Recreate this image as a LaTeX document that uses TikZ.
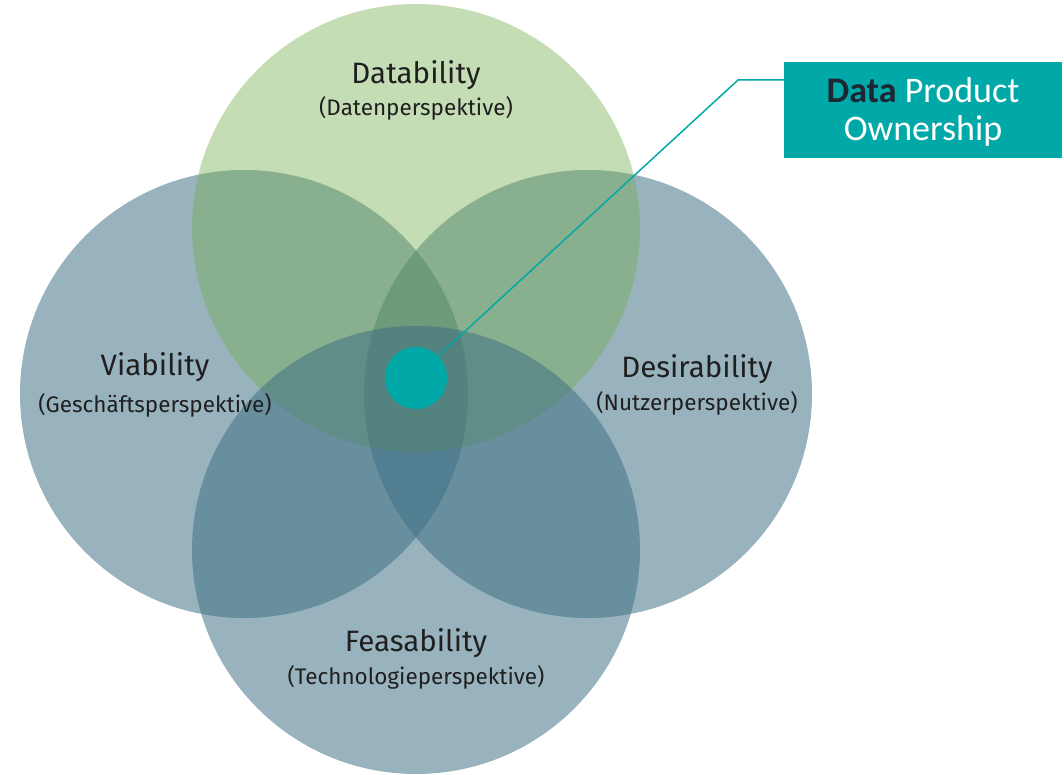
\documentclass[tikz,border=0pt]{standalone}
\usepackage{fontspec}
\setmainfont{Fira Sans}
\newfontfamily\boxfont{Carlito}
\definecolor{bluec}{RGB}{60,110,130}
\definecolor{greenc}{RGB}{113,172,74}
\definecolor{teal}{RGB}{0,168,168}
\definecolor{darktxt}{RGB}{30,38,50}
\begin{document}
\begin{tikzpicture}[x=1pt,y=-1pt,
  bcirc/.style={circle,fill=bluec,fill opacity=0.52,draw=none,minimum size=448pt,inner sep=0pt},
  gcirc/.style={circle,fill=greenc,fill opacity=0.41,draw=none,minimum size=448pt,inner sep=0pt},
  title/.style={font=\fontsize{29.5}{32}\selectfont\color{black!88},anchor=center},
  sub/.style={font=\fontsize{22.5}{25}\selectfont\color{black!88},anchor=center}]
\useasboundingbox (0,0) rectangle (1064,775);
\node[bcirc] (viab) at (244,394) {};
\node[bcirc] (desi) at (588,394) {};
\node[gcirc] (data) at (416,228) {};
\node[bcirc] (feas) at (416,550) {};
\node[circle,fill=teal,minimum size=62pt,inner sep=0pt] (dot) at (416,378) {};
\node[fill=teal,minimum width=278pt,minimum height=96pt,inner sep=0pt,anchor=north west] (box) at (784,62) {};
\node[font=\boxfont\fontsize{36}{38}\selectfont,text=white] (b1) at (923,90) {\textbf{\color{darktxt}Data} Product};
\node[font=\boxfont\fontsize{36}{38}\selectfont,text=white] (b2) at (923,131) {Ownership};
\coordinate (bend) at (738,80);
\draw[teal,line width=1.5pt] (dot.center) ++(20,-20) coordinate (ds) -- (bend) -- (box.west |- bend);
\node[title] (t1) at (416,75) {Datability};
\node[sub] (s1) at (416,108) {(Datenperspektive)};
\node[title] (t2) at (155,367) {Viability};
\node[sub] (s2) at (155,405) {(Geschäftsperspektive)};
\node[title] (t3) at (697,369) {Desirability};
\node[sub] (s3) at (697,403) {(Nutzerperspektive)};
\node[title] (t4) at (416,643) {Feasability};
\node[sub] (s4) at (416,677) {(Technologieperspektive)};
\end{tikzpicture}
\end{document}
